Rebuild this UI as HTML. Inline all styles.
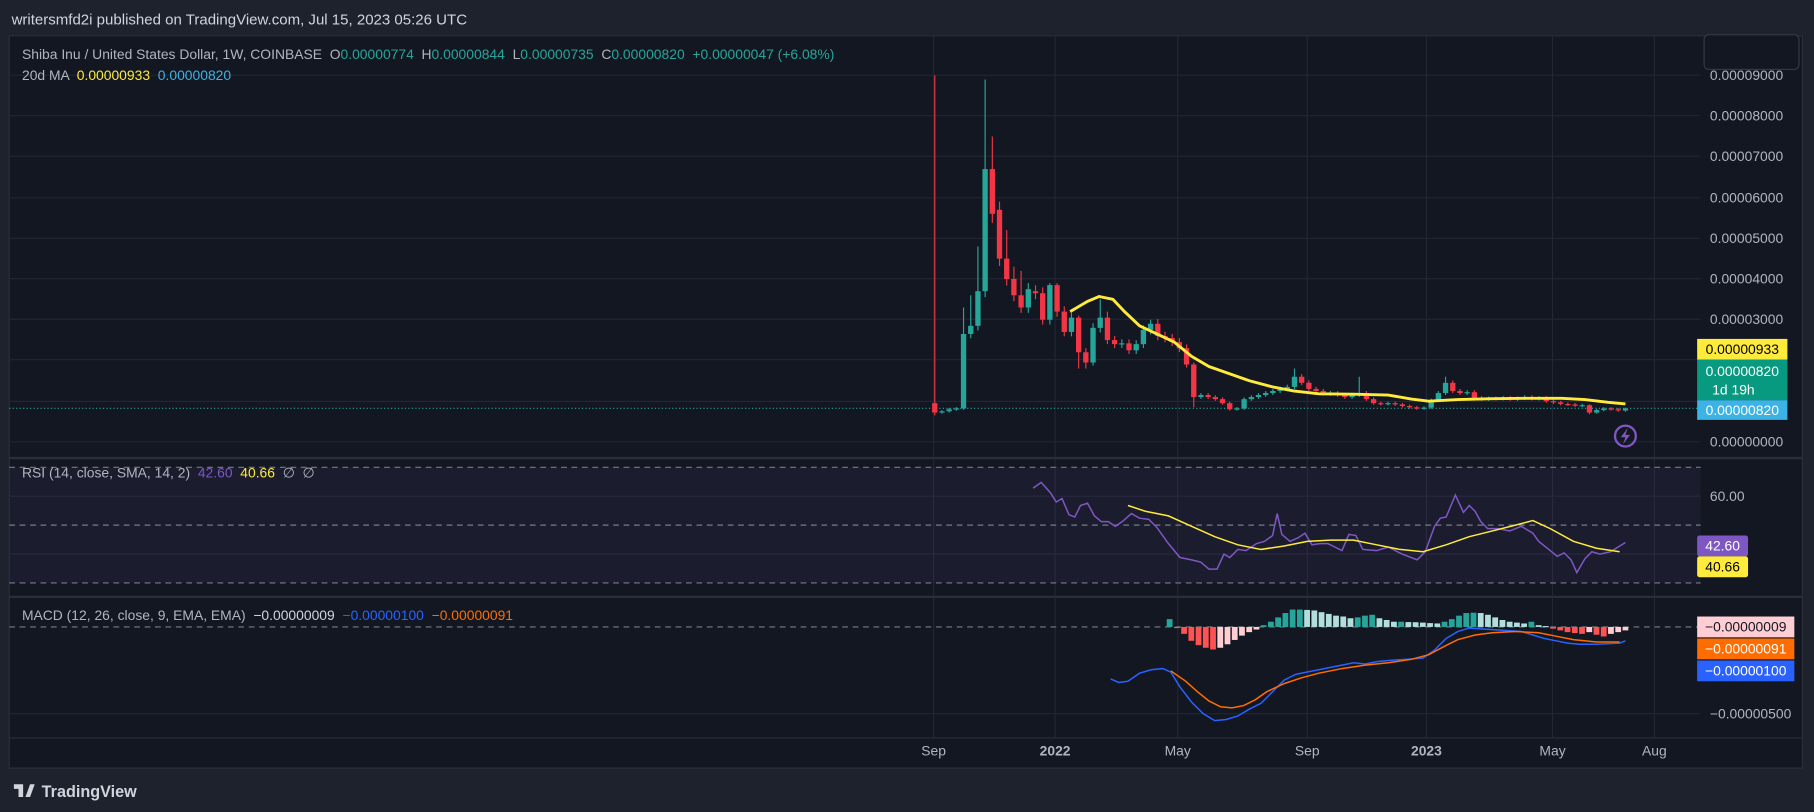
<!DOCTYPE html>
<html><head><meta charset="utf-8"><style>
html,body{margin:0;padding:0;background:#1e222d;width:1814px;height:812px;overflow:hidden}
svg{display:block}
text{font-family:"Liberation Sans",sans-serif;white-space:pre}
</style></head><body>
<svg id="s" width="1814" height="812" viewBox="0 0 1568 702" preserveAspectRatio="none" xmlns="http://www.w3.org/2000/svg" xml:space="preserve">
<rect x="0" y="0" width="1568" height="702" fill="#1e222d"/>
<text x="10" y="21" font-size="13" fill="#d1d4dc">writersmfd2i published on TradingView.com, Jul 15, 2023 05:26 UTC</text>
<rect x="8" y="31" width="1550" height="633" fill="#131722" stroke="#2a2e39"/>
<g id="grid" stroke="#232733" stroke-width="1"></g>
<line x1="8" y1="396" x2="1558" y2="396" stroke="#2a2e39" stroke-width="2"/>
<line x1="8" y1="516" x2="1558" y2="516" stroke="#2a2e39" stroke-width="2"/>
<line x1="8" y1="638" x2="1558" y2="638" stroke="#2a2e39"/>
<rect x="1473" y="30" width="82" height="30" rx="4" fill="#131722" stroke="#363a45"/>
<rect x="8" y="404" width="1462" height="100" fill="#7e57c2" fill-opacity="0.08"/>
<g stroke="#787b86" stroke-dasharray="5,4" stroke-width="1">
<line x1="8" y1="404" x2="1470" y2="404"/><line x1="8" y1="454" x2="1470" y2="454"/><line x1="8" y1="504" x2="1470" y2="504"/>
<line x1="8" y1="542" x2="1470" y2="542"/>
</g>
<line x1="8" y1="353" x2="1470" y2="353" stroke="#26a69a" stroke-dasharray="1,2"/>
<g id="candles"></g>
<polyline id="ma" fill="none" stroke="#ffeb3b" stroke-width="2.5"/>
<g id="hist"></g>
<polyline id="rsi" fill="none" stroke="#7e57c2" stroke-width="1.3"/>
<polyline id="rsima" fill="none" stroke="#ffeb3b" stroke-width="1.3"/>
<polyline id="macd" fill="none" stroke="#2962ff" stroke-width="1.3"/>
<polyline id="sig" fill="none" stroke="#ff6d00" stroke-width="1.3"/>
<text x="19" y="51" font-size="12" fill="#b2b5be">Shiba Inu / United States Dollar, 1W, COINBASE  O<tspan fill="#26a69a">0.00000774</tspan>  H<tspan fill="#26a69a">0.00000844</tspan>  L<tspan fill="#26a69a">0.00000735</tspan>  C<tspan fill="#26a69a">0.00000820</tspan>  <tspan fill="#26a69a">+0.00000047 (+6.08%)</tspan></text>
<text x="19" y="69" font-size="12" fill="#b2b5be">20d MA  <tspan fill="#ffeb3b">0.00000933</tspan>  <tspan fill="#3bb3e4">0.00000820</tspan></text>
<text x="19" y="413" font-size="12" fill="#b2b5be">RSI (14, close, SMA, 14, 2)  <tspan fill="#7e57c2">42.60</tspan>  <tspan fill="#ffeb3b">40.66</tspan>  ∅  ∅</text>
<text x="19" y="536" font-size="12" fill="#b2b5be">MACD (12, 26, close, 9, EMA, EMA)  <tspan fill="#d1d4dc">−0.00000009</tspan>  <tspan fill="#2962ff">−0.00000100</tspan>  <tspan fill="#ff6d00">−0.00000091</tspan></text>
<g id="axis" font-size="12" fill="#b2b5be"></g>
<rect x="1467" y="293" width="78" height="18" fill="#ffeb3b"/><text x="1506" y="306" font-size="12" text-anchor="middle" fill="#000">0.00000933</text>
<rect x="1467" y="311" width="78" height="35" fill="#089981"/><text x="1506" y="325" font-size="12" text-anchor="middle" fill="#fff">0.00000820</text><text x="1480" y="341" font-size="12" fill="#fff">1d 19h</text>
<rect x="1467" y="346" width="78" height="17" fill="#3bb3e4"/><text x="1506" y="359" font-size="12" text-anchor="middle" fill="#fff">0.00000820</text>
<rect x="1467" y="463" width="44" height="18" rx="2" fill="#7e57c2"/><text x="1489" y="476" font-size="12" text-anchor="middle" fill="#fff">42.60</text>
<rect x="1467" y="481" width="44" height="18" rx="2" fill="#ffeb3b"/><text x="1489" y="494" font-size="12" text-anchor="middle" fill="#000">40.66</text>
<rect x="1467" y="533" width="84" height="18" fill="#ffcdd2"/><text x="1509" y="546" font-size="12" text-anchor="middle" fill="#131722">−0.00000009</text>
<rect x="1467" y="552" width="84" height="18" fill="#ff6d00"/><text x="1509" y="565" font-size="12" text-anchor="middle" fill="#fff">−0.00000091</text>
<rect x="1467" y="571" width="84" height="18" fill="#2962ff"/><text x="1509" y="584" font-size="12" text-anchor="middle" fill="#fff">−0.00000100</text>
<circle cx="1405" cy="377" r="9" fill="none" stroke="#7e57c2" stroke-width="2"/>
<path d="M1407 370 L1401 378 L1405 378 L1403 384 L1409 376 L1405 376 Z" fill="#7e57c2"/>
<path d="M12 678 h8 v11 h-4 v-7 h-4z M22 689 l4 -11 h4 l-4 11z" fill="#d1d4dc"/>
<text x="36" y="689" font-size="14" font-weight="bold" fill="#d1d4dc">TradingView</text>
</svg>
<script>
const NS="http://www.w3.org/2000/svg";
function el(p,t,a){const e=document.createElementNS(NS,t);for(const k in a)e.setAttribute(k,a[k]);document.getElementById(p).appendChild(e);return e;}
const yP=u=>382-35.2*u;
[65,100,135,171,206,241,276,311,347,382,429,479,617].forEach(y=>el('grid','line',{x1:8,x2:1470,y1:y,y2:y}));
[807,912,1018,1130,1233,1342,1430].forEach(x=>el('grid','line',{x1:x,x2:x,y1:31,y2:638}));
[[65,'0.00009000'],[100,'0.00008000'],[135,'0.00007000'],[171,'0.00006000'],[206,'0.00005000'],[241,'0.00004000'],[276,'0.00003000'],[382,'0.00000000'],[429,'60.00'],[617,'−0.00000500']].forEach(([y,t])=>el('axis','text',{x:1478,y:y+4}).textContent=t);
[[807,'Sep'],[912,'2022',1],[1018,'May'],[1130,'Sep'],[1233,'2023',1],[1342,'May'],[1430,'Aug']].forEach(([x,t,b])=>{const e=el('axis','text',{x:x,y:653,'text-anchor':'middle'});if(b)e.setAttribute('font-weight','bold');e.textContent=t;});
const C=[[0.95,0.72,9.0,0.65],[0.72,0.75],[0.75,0.8],[0.8,0.82],[0.82,2.65,3.3],[2.65,2.85,3.6],[2.85,3.7,4.8],[3.7,6.7,8.9],[6.7,5.6,7.5],[5.7,4.5,5.9],[4.5,4.0,5.2],[4.0,3.6,4.3],[3.6,3.3,4.2],[3.3,3.75,3.9],[3.7,3.65],[3.65,3.0],[3.0,3.85,3.9],[3.85,3.2,3.9],[3.2,2.7],[2.7,3.05],[3.05,2.2,3.1,1.8],[2.2,1.95,2.3,1.8],[1.95,2.8],[2.8,3.05,3.5],[3.05,2.5,3.2],[2.5,2.4],[2.4,2.42],[2.42,2.25],[2.25,2.4],[2.4,2.75],[2.75,2.9,3.0],[2.9,2.6],[2.6,2.55],[2.55,2.45],[2.45,2.3],[2.3,1.9],[1.9,1.1,1.95,0.85],[1.1,1.15],[1.15,1.1],[1.1,1.05],[1.05,0.95],[0.95,0.8],[0.8,0.82],[0.82,1.05],[1.05,1.1],[1.1,1.15],[1.15,1.2],[1.2,1.25],[1.25,1.3],[1.3,1.35],[1.35,1.6,1.8],[1.6,1.45],[1.45,1.3],[1.3,1.25],[1.25,1.18],[1.18,1.2],[1.2,1.15],[1.15,1.1],[1.1,1.15],[1.15,1.2,1.6],[1.2,1.05],[1.05,0.95],[0.95,0.93],[0.93,0.95],[0.95,0.92],[0.92,0.88],[0.88,0.85],[0.85,0.82],[0.82,0.84],[0.84,1.02],[1.02,1.2],[1.2,1.45,1.6],[1.45,1.25],[1.25,1.2],[1.2,1.22],[1.22,1.08],[1.08,1.05],[1.05,1.07],[1.07,1.06],[1.06,1.08],[1.08,1.05],[1.05,1.07],[1.07,1.1],[1.1,1.06],[1.06,1.08],[1.08,1.0],[1.0,0.97],[0.97,0.93],[0.93,0.92],[0.92,0.89],[0.89,0.9],[0.9,0.72,0.92,0.68],[0.72,0.78],[0.78,0.82],[0.82,0.8],[0.8,0.77],[0.77,0.82,0.84]];
const step=597/(C.length-1);
C.forEach((c,i)=>{const x=808+i*step;let [o,cl,h,l]=c;h=h||Math.max(o,cl)*1.04;l=l||Math.min(o,cl)*0.96;
const col=cl>=o?'#26a69a':'#f23645';
el('candles','line',{x1:x,x2:x,y1:yP(h),y2:yP(l),stroke:col,'stroke-width':1});
const t=yP(Math.max(o,cl)),b=yP(Math.min(o,cl));el('candles','rect',{x:x-2.3,y:t,width:4.6,height:Math.max(1,b-t),fill:col});});
const ma=[[925,3.2],[940,3.45],[950,3.57],[962,3.5],[972,3.2],[985,2.85],[1000,2.65],[1015,2.45],[1030,2.1],[1045,1.85],[1060,1.7],[1080,1.5],[1100,1.35],[1118,1.25],[1140,1.18],[1170,1.17],[1200,1.15],[1220,1.05],[1235,1.0],[1260,1.04],[1290,1.06],[1320,1.07],[1350,1.07],[1370,1.04],[1390,0.97],[1405,0.93]];
document.getElementById('ma').setAttribute('points',ma.map(p=>p[0]+','+yP(p[1])).join(' '));
const P=(id,a)=>document.getElementById(id).setAttribute('points',a.map(p=>p.join(',')).join(' '));
P('rsi',[[893,422],[900,417],[908,426],[913,434],[918,431],[924,445],[929,447],[934,437],[940,435],[946,446],[952,451],[958,451],[964,455],[970,451],[978,444],[985,448],[993,449],[1000,456],[1010,470],[1020,482],[1030,484],[1038,486],[1045,492],[1052,492],[1058,479],[1063,482],[1070,475],[1077,476],[1086,470],[1093,468],[1100,463],[1104,444],[1108,462],[1115,468],[1122,465],[1128,461],[1134,471],[1141,470],[1148,470],[1154,473],[1160,476],[1166,462],[1172,463],[1178,475],[1190,476],[1200,473],[1212,479],[1225,484],[1232,477],[1240,455],[1245,448],[1250,447],[1258,428],[1265,443],[1270,437],[1275,442],[1280,451],[1286,457],[1295,457],[1305,459],[1315,455],[1320,458],[1325,461],[1330,468],[1340,476],[1346,481],[1352,478],[1358,484],[1363,495],[1370,483],[1376,477],[1383,479],[1392,477],[1405,469]]);
P('rsima',[[975,437],[990,442],[1010,446],[1030,455],[1050,464],[1070,471],[1090,475],[1110,472],[1130,468],[1150,467],[1170,467],[1190,471],[1210,475],[1230,477],[1250,471],[1270,464],[1290,459],[1310,454],[1325,450],[1340,457],[1360,468],[1380,474],[1400,477]]);
P('macd',[[960,587],[967,590],[975,589],[985,582],[995,579],[1005,578],[1012,581],[1020,594],[1030,607],[1040,617],[1050,623],[1060,622],[1070,619],[1080,613],[1090,608],[1100,598],[1110,588],[1120,583],[1130,581],[1140,579],[1150,577],[1160,575],[1170,573],[1180,574],[1190,572],[1200,571],[1215,570],[1230,569],[1240,562],[1250,552],[1260,546],[1270,543],[1285,544],[1300,545],[1315,546],[1325,549],[1335,552],[1345,554],[1355,556],[1365,557],[1380,557],[1400,556],[1405,554]]);
P('sig',[[1012,580],[1025,589],[1035,598],[1045,606],[1055,611],[1065,612],[1075,610],[1085,605],[1095,598],[1110,591],[1125,586],[1140,582],[1160,578],[1180,575],[1200,573],[1220,570],[1235,566],[1250,558],[1260,553],[1275,549],[1290,547],[1310,546],[1330,547],[1345,550],[1360,553],[1380,555],[1400,555]]);
const H=[0.45,-0.05,-0.4,-0.8,-1.05,-1.2,-1.3,-1.2,-1.0,-0.75,-0.5,-0.3,-0.15,0.1,0.3,0.55,0.8,1.0,1.0,0.98,0.95,0.85,0.75,0.65,0.6,0.5,0.55,0.65,0.7,0.5,0.4,0.3,0.3,0.28,0.27,0.25,0.22,0.2,0.3,0.45,0.65,0.8,0.82,0.8,0.7,0.55,0.4,0.3,0.25,0.2,0.3,0.1,0.05,-0.1,-0.2,-0.3,-0.35,-0.4,-0.3,-0.45,-0.55,-0.4,-0.3,-0.2];
const hs=394/(H.length-1);
H.forEach((v,i)=>{const x=1011+i*hs;const p=i?H[i-1]:0;let col;
if(v>=0)col=v>=p?'#26a69a':'#b2dfdb';else col=v<=p?'#ff5252':'#ffcdd2';
const y0=542,y1=542-v*15;el('hist','rect',{x:x-2.5,y:Math.min(y0,y1),width:5,height:Math.max(1,Math.abs(y1-y0)),fill:col});});
</script>
</body></html>
